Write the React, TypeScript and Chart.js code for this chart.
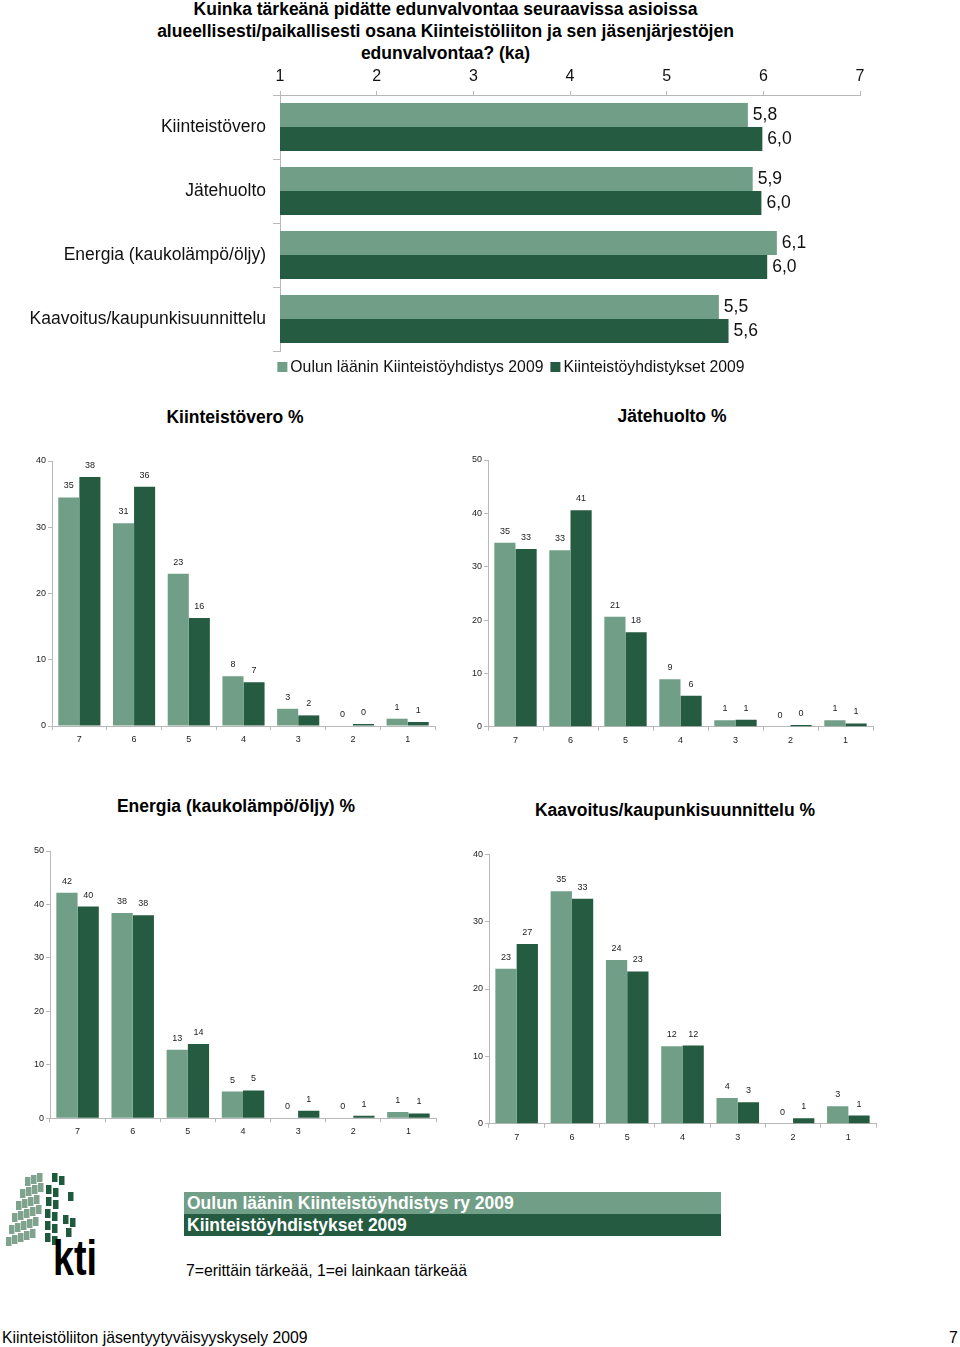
import React, { useEffect, useRef } from "react";
import { Chart, registerables } from "chart.js";

Chart.register(...registerables);

const FAMILY = '"Liberation Sans", Arial, Helvetica, sans-serif';
Chart.defaults.font.family = FAMILY;

const LIGHT = "#719e86";
const DARK = "#245b41";
const AXIS = "#b8b8b8";

// ---- data ----
const SERIES_NAMES = ["Oulun läänin Kiinteistöyhdistys 2009", "Kiinteistöyhdistykset 2009"];
const TOPICS = ["Kiinteistövero", "Jätehuolto", "Energia (kaukolämpö/öljy)", "Kaavoitus/kaupunkisuunnittelu"];
const AVG_OULU = [5.84, 5.89, 6.14, 5.54];
const AVG_ALL = [5.99, 5.98, 6.04, 5.64];
const SCALE_TICKS = [1, 2, 3, 4, 5, 6, 7];

const GRADES = ["7", "6", "5", "4", "3", "2", "1"];
const KV_OULU = [34.5, 30.6, 23.0, 7.5, 2.6, 0, 1.1];
const KV_ALL = [37.6, 36.1, 16.3, 6.6, 1.6, 0.3, 0.6];
const JH_OULU = [34.5, 33.1, 20.6, 8.9, 1.2, 0, 1.2];
const JH_ALL = [33.3, 40.6, 17.7, 5.8, 1.3, 0.3, 0.6];
const EN_OULU = [42.2, 38.4, 12.8, 5.0, 0, 0, 1.2];
const EN_ALL = [39.6, 38.0, 13.9, 5.2, 1.4, 0.5, 0.9];
const KA_OULU = [23.0, 34.5, 24.3, 11.5, 3.8, 0, 2.6];
const KA_ALL = [26.7, 33.4, 22.6, 11.6, 3.2, 0.8, 1.2];

// ---- plugins ----
const endLabels = {
  id: "endLabels",
  afterDatasetsDraw(chart: any) {
    const ctx = chart.ctx;
    ctx.save();
    ctx.font = `17.5px ${FAMILY}`;
    ctx.fillStyle = "#111";
    ctx.textAlign = "left";
    ctx.textBaseline = "middle";
    chart.data.datasets.forEach((ds: any, i: number) => {
      chart.getDatasetMeta(i).data.forEach((bar: any, j: number) => {
        ctx.fillText(Number(ds.data[j]).toFixed(1).replace(".", ","), bar.x + 5, bar.y);
      });
    });
    ctx.restore();
  },
};

const topLegend = {
  id: "topLegend",
  afterDraw(chart: any, _args: any, opts: any) {
    const ctx = chart.ctx;
    ctx.save();
    ctx.font = `15.75px ${FAMILY}`;
    const box = 10, gap = 3, sep = 7;
    const items = chart.data.datasets.map((ds: any) => ({ text: ds.label, color: ds.backgroundColor }));
    const widths = items.map((it: any) => box + gap + ctx.measureText(it.text).width);
    const total = widths.reduce((a: number, b: number) => a + b, 0) + sep * (items.length - 1);
    let x = opts.centerX - total / 2;
    const y = opts.y;
    items.forEach((it: any, i: number) => {
      ctx.fillStyle = it.color;
      ctx.fillRect(x, y - box / 2, box, box);
      ctx.fillStyle = "#111";
      ctx.textAlign = "left";
      ctx.textBaseline = "middle";
      ctx.fillText(it.text, x + box + gap, y + 1);
      x += widths[i] + sep;
    });
    ctx.restore();
  },
};

const columnLabels = {
  id: "columnLabels",
  afterDatasetsDraw(chart: any) {
    const ctx = chart.ctx;
    ctx.save();
    ctx.font = `9px ${FAMILY}`;
    ctx.fillStyle = "#222";
    ctx.textAlign = "center";
    ctx.textBaseline = "middle";
    chart.data.datasets.forEach((ds: any, i: number) => {
      chart.getDatasetMeta(i).data.forEach((bar: any, j: number) => {
        ctx.fillText(String(Math.round(Number(ds.data[j]))), bar.x, bar.y - 11.5);
      });
    });
    ctx.restore();
  },
};

// ---- configs ----
function topConfig(): any {
  return {
    type: "bar",
    data: {
      labels: TOPICS,
      datasets: [
        { label: SERIES_NAMES[0], data: AVG_OULU, backgroundColor: LIGHT },
        { label: SERIES_NAMES[1], data: AVG_ALL, backgroundColor: DARK },
      ],
    },
    options: {
      indexAxis: "y",
      responsive: false,
      animation: false,
      events: [],
      layout: { padding: { left: 0, right: 100, top: 0, bottom: 31 } },
      datasets: { bar: { categoryPercentage: 0.75, barPercentage: 1 } },
      scales: {
        x: {
          position: "top",
          min: 1,
          max: 7,
          afterBuildTicks: (s: any) => {
            s.ticks = SCALE_TICKS.map((v) => ({ value: v }));
          },
          ticks: { color: "#111", font: { size: 16 }, padding: 5 },
          grid: { drawOnChartArea: false, drawTicks: true, tickLength: 4, color: AXIS },
          border: { color: AXIS },
          afterFit: (s: any) => {
            s.height = 33;
          },
        },
        y: {
          ticks: { color: "#111", font: { size: 17.5 }, padding: 7 },
          grid: { drawOnChartArea: false, tickLength: 7, color: AXIS, offset: true },
          border: { color: AXIS },
          afterFit: (s: any) => {
            s.width = 280;
          },
        },
      },
      plugins: {
        legend: { display: false },
        tooltip: { enabled: false },
        topLegend: { centerX: 511, y: 305 },
      },
    },
    plugins: [endLabels, topLegend],
  };
}

function columnConfig(oulu: number[], all: number[], yMax: number, g: any): any {
  return {
    type: "bar",
    data: {
      labels: GRADES,
      datasets: [
        { label: SERIES_NAMES[0], data: oulu, backgroundColor: LIGHT },
        { label: SERIES_NAMES[1], data: all, backgroundColor: DARK },
      ],
    },
    options: {
      responsive: false,
      animation: false,
      events: [],
      layout: { padding: { left: 0, right: g.padRight, top: g.padTop, bottom: 0 } },
      datasets: { bar: { categoryPercentage: 0.77, barPercentage: 1 } },
      scales: {
        x: {
          ticks: { color: "#222", font: { size: 9 }, padding: 4 },
          grid: { drawOnChartArea: false, tickLength: 4, color: AXIS, offset: true },
          border: { color: AXIS },
          afterFit: (s: any) => {
            s.height = g.xAxisHeight;
          },
        },
        y: {
          min: 0,
          max: yMax,
          ticks: { stepSize: 10, color: "#222", font: { size: 9 }, padding: 2 },
          grid: { drawOnChartArea: false, tickLength: 4, color: AXIS },
          border: { color: AXIS },
          afterFit: (s: any) => {
            s.width = g.yAxisWidth;
          },
        },
      },
      plugins: { legend: { display: false }, tooltip: { enabled: false } },
    },
    plugins: [columnLabels],
  };
}

function ChartCanvas(props: { left: number; top: number; width: number; height: number; make: () => any }) {
  const ref = useRef<HTMLCanvasElement>(null);
  useEffect(() => {
    const chart = new Chart(ref.current as HTMLCanvasElement, props.make());
    return () => chart.destroy();
  }, []);
  return (
    <canvas
      ref={ref}
      width={props.width}
      height={props.height}
      style={{ position: "absolute", left: props.left, top: props.top, width: props.width, height: props.height }}
    />
  );
}

function Title(props: { x: number; y: number; text: string }) {
  return (
    <div
      style={{
        position: "absolute",
        left: props.x,
        top: props.y,
        transform: "translate(-50%, -50%)",
        whiteSpace: "nowrap",
        fontWeight: "bold",
        fontSize: "17.5px",
        color: "#000",
      }}
    >
      {props.text}
    </div>
  );
}

const LOGO_LIGHT: number[][] = [
  [25, 17], [31, 15], [37, 13],
  [20, 29], [26, 27], [32, 25], [38, 23],
  [16, 41], [22, 39], [28, 37], [34, 35],
  [12, 53], [18, 51], [24, 49], [30, 47], [36, 45],
  [9, 65], [15, 63], [21, 61], [27, 59], [33, 57],
  [6, 77], [12, 75], [18, 73], [24, 71], [30, 69],
];
const LOGO_DARK: number[][] = [
  [52, 13], [59, 16],
  [46, 25], [53, 28], [68, 32],
  [46, 37], [53, 40],
  [45, 49], [52, 52], [63, 55], [70, 58],
  [45, 61], [52, 64], [66, 68],
  [45, 73], [52, 76],
];

function Logo() {
  return (
    <svg width={100} height={120} style={{ position: "absolute", left: 0, top: 1160 }}>
      {LOGO_LIGHT.map(([x, y], i) => (
        <rect key={"l" + i} x={x} y={y} width={5.5} height={9} fill="#7fa38d" transform={`skewY(-15 ${x} ${y})`} />
      ))}
      {LOGO_DARK.map(([x, y], i) => (
        <rect key={"d" + i} x={x} y={y} width={5.5} height={9} fill="#1f5a3d" transform={`skewY(15 ${x} ${y})`} />
      ))}
      <text x={53} y={115} fontFamily={FAMILY} fontWeight="bold" fontSize={50} textLength={44} lengthAdjust="spacingAndGlyphs" fill="#000">
        kti
      </text>
    </svg>
  );
}

export default function App() {
  return (
    <div
      style={{
        position: "absolute",
        left: 0,
        top: 0,
        width: 960,
        height: 1347,
        overflow: "hidden",
        background: "#fff",
        fontFamily: FAMILY,
        color: "#000",
      }}
    >
      <div
        style={{
          position: "absolute",
          left: 0,
          top: -2,
          width: 891,
          textAlign: "center",
          fontWeight: "bold",
          fontSize: "17.5px",
          lineHeight: "22px",
        }}
      >
        Kuinka tärkeänä pidätte edunvalvontaa seuraavissa asioissa
        <br />
        alueellisesti/paikallisesti osana Kiinteistöliiton ja sen jäsenjärjestöjen
        <br />
        edunvalvontaa? (ka)
      </div>

      <ChartCanvas left={0} top={62} width={960} height={320} make={topConfig} />

      <Title x={235} y={417} text="Kiinteistövero %" />
      <Title x={672} y={416} text="Jätehuolto %" />
      <Title x={236} y={806} text="Energia (kaukolämpö/öljy) %" />
      <Title x={675} y={810} text="Kaavoitus/kaupunkisuunnittelu %" />

      <ChartCanvas
        left={0}
        top={450}
        width={470}
        height={320}
        make={() => columnConfig(KV_OULU, KV_ALL, 40, { yAxisWidth: 52, padRight: 35, padTop: 11, xAxisHeight: 44 })}
      />
      <ChartCanvas
        left={470}
        top={450}
        width={490}
        height={320}
        make={() => columnConfig(JH_OULU, JH_ALL, 50, { yAxisWidth: 18, padRight: 87, padTop: 10, xAxisHeight: 43.3 })}
      />
      <ChartCanvas
        left={0}
        top={840}
        width={470}
        height={320}
        make={() => columnConfig(EN_OULU, EN_ALL, 50, { yAxisWidth: 50, padRight: 34, padTop: 11, xAxisHeight: 41.7 })}
      />
      <ChartCanvas
        left={470}
        top={840}
        width={490}
        height={320}
        make={() => columnConfig(KA_OULU, KA_ALL, 40, { yAxisWidth: 19, padRight: 84, padTop: 14.3, xAxisHeight: 36.3 })}
      />

      <Logo />

      <div
        style={{
          position: "absolute",
          left: 184,
          top: 1192,
          width: 534,
          height: 22,
          paddingLeft: 3,
          background: LIGHT,
          color: "#fff",
          fontWeight: "bold",
          fontSize: "17.5px",
          lineHeight: "22px",
          whiteSpace: "nowrap",
        }}
      >
        Oulun läänin Kiinteistöyhdistys ry 2009
      </div>
      <div
        style={{
          position: "absolute",
          left: 184,
          top: 1214,
          width: 534,
          height: 22,
          paddingLeft: 3,
          background: DARK,
          color: "#fff",
          fontWeight: "bold",
          fontSize: "17.5px",
          lineHeight: "22px",
          whiteSpace: "nowrap",
        }}
      >
        Kiinteistöyhdistykset 2009
      </div>

      <div style={{ position: "absolute", left: 186, top: 1261, fontSize: "15.75px", lineHeight: "20px", whiteSpace: "nowrap" }}>
        7=erittäin tärkeää, 1=ei lainkaan tärkeää
      </div>

      <div style={{ position: "absolute", left: 2, top: 1328, fontSize: "15.75px", lineHeight: "20px", whiteSpace: "nowrap" }}>
        Kiinteistöliiton jäsentyytyväisyyskysely 2009
      </div>
      <div style={{ position: "absolute", left: 949, top: 1328, fontSize: "15.75px", lineHeight: "20px" }}>7</div>
    </div>
  );
}
